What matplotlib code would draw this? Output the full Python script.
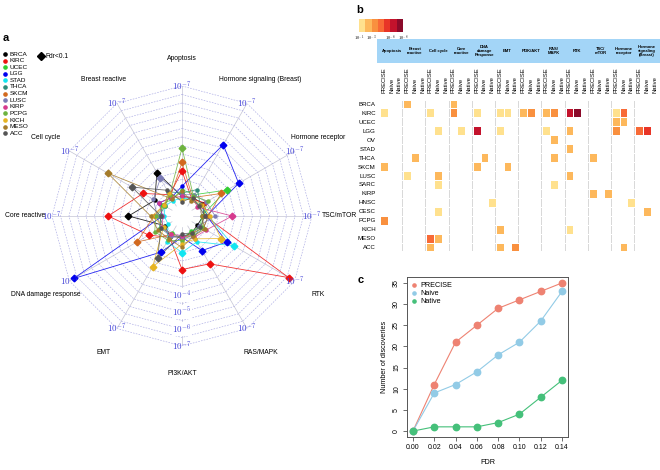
"""Three-panel figure: pathway radar (a), discovery heatmap (b), FDR curves (c)."""
import numpy as np
import matplotlib

matplotlib.use("Agg")
import matplotlib.pyplot as plt
from matplotlib.colors import ListedColormap, BoundaryNorm
from matplotlib.lines import Line2D
from matplotlib.patches import Rectangle

plt.rcParams["font.family"] = ["Liberation Sans", "DejaVu Sans"]
plt.rcParams["mathtext.fontset"] = "cm"

W, H = 660, 470

# ---------------------------------------------------------------------------
# Panel a: -log10(p) per pathway, clockwise from the top
# ---------------------------------------------------------------------------
PATHWAYS = ["Apoptosis", "Hormone signaling (Breast)", "Hormone receptor",
            "TSC/mTOR", "RTK", "RAS/MAPK", "PI3K/AKT", "EMT",
            "DNA damage response", "Core reactive", "Cell cycle",
            "Breast reactive"]
CANCERS = ["BRCA", "KIRC", "UCEC", "LGG", "STAD", "THCA", "SKCM", "LUSC",
           "KIRP", "PCPG", "KICH", "MESO", "ACC"]
CANCER_COLORS = ["#000000", "#EE1111", "#33CC33", "#0000EE", "#11E5F0",
                 "#2E8B7A", "#D2691E", "#7B7BB5", "#D63A8E", "#6DB33F",
                 "#E6B422", "#A57C2B", "#555555"]

BRCA = [0.5, 0.6, 0.8, 0.6, 0.4, 0.5, 0.6, 0.75, 0.5, 2.5, 1.2, 2.3]
KIRC = [2.0, 0.5, 0.9, 0.7, 6.6, 2.6, 2.5, 0.8, 1.6, 3.7, 2.0, 0.8]
UCEC = [0.9, 0.8, 2.4, 0.5, 0.6, 0.4, 0.7, 0.5, 0.9, 0.6, 0.7, 0.5]
LGG = [1.1, 4.2, 3.2, 0.8, 2.4, 1.7, 0.6, 1.8, 6.7, 0.5, 0.9, 0.6]
STAD = [0.4, 0.5, 0.6, 0.9, 2.85, 1.1, 1.5, 1.1, 0.3, 0.4, 0.5, 0.4]
THCA = [0.7, 1.15, 0.6, 0.9, 0.8, 0.7, 0.5, 0.8, 0.6, 0.7, 0.5, 1.0]
SKCM = [2.5, 0.6, 2.0, 0.9, 0.8, 0.5, 0.7, 0.6, 2.4, 1.0, 0.6, 0.7]
LUSC = [0.6, 0.8, 1.0, 1.3, 0.5, 0.9, 0.6, 0.7, 0.8, 0.8, 1.3, 1.9]
KIRP = [0.5, 0.6, 0.4, 2.3, 1.0, 0.8, 0.5, 0.6, 0.7, 0.5, 0.9, 0.6]
PCPG = [3.35, 0.7, 1.1, 0.6, 0.7, 0.6, 0.8, 1.0, 1.2, 0.9, 0.5, 0.8]
KICH = [0.3, 0.5, 0.7, 1.0, 2.0, 0.9, 1.0, 2.8, 0.6, 1.1, 0.6, 0.9]
MESO = [0.8, 0.4, 0.6, 0.5, 0.9, 0.7, 1.2, 0.9, 1.0, 1.2, 4.4, 0.5]
ACC = [0.2, 0.6, 0.5, 0.7, 0.6, 0.5, 0.4, 2.2, 0.8, 0.6, 2.75, 1.1]
RADAR = [BRCA, KIRC, UCEC, LGG, STAD, THCA, SKCM, LUSC, KIRP, PCPG, KICH,
         MESO, ACC]
SIG_LEVEL = 1.5  # -log10 p above which Fdr<0.1 (diamond marker)

# ---------------------------------------------------------------------------
# Panel b: colour level (0 = none) per tumour x pathway x method
# ---------------------------------------------------------------------------
GROUPS = ["Apoptosis", "Breast\nreactive", "Cell cycle", "Core\nreactive",
          "DNA\ndamage\nResponse", "EMT", "PI3K/AKT", "RAS/\nMAPK", "RTK",
          "TSC/\nmTOR", "Hormone\nreceptor", "Hormone\nsignaling\n(Breast)"]
METHODS = ["PRECISE", "Naive", "Native"]
HEAT_ROWS = ["BRCA", "KIRC", "UCEC", "LGG", "OV", "STAD", "THCA", "SKCM",
             "LUSC", "SARC", "KIRP", "HNSC", "CESC", "PCPG", "KICH", "MESO",
             "ACC"]
HEAT_LEVELS = [
    "000 200 000 200 000 000 000 000 000 000 000 000",  # BRCA
    "100 000 100 300 100 110 230 230 670 000 140 000",  # KIRC
    "000 000 000 000 000 000 000 000 000 000 220 000",  # UCEC
    "000 000 010 010 600 100 000 100 200 000 300 450",  # LGG
    "000 000 000 000 000 000 000 020 000 000 000 000",  # OV
    "000 000 000 000 000 000 000 000 200 000 000 000",  # STAD
    "000 020 000 000 020 000 000 020 000 200 000 000",  # THCA
    "200 000 000 000 200 020 000 000 000 000 000 000",  # SKCM
    "000 100 020 000 000 000 000 000 200 000 000 000",  # LUSC
    "000 000 010 000 000 000 000 010 000 000 000 000",  # SARC
    "000 000 000 000 000 000 000 000 000 202 000 000",  # KIRP
    "000 000 000 000 001 000 000 000 000 000 001 000",  # HNSC
    "000 000 010 000 000 000 000 000 000 000 000 020",  # CESC
    "300 000 000 000 000 000 000 000 000 000 000 000",  # PCPG
    "000 000 000 000 000 200 000 000 100 000 000 000",  # KICH
    "000 000 420 000 000 000 000 000 000 000 000 000",  # MESO
    "000 000 200 000 000 203 000 000 000 000 020 000",  # ACC
]
LEVEL_COLORS = ["#FFE18E", "#FDB85C", "#F9903F", "#F86A36", "#E83527",
                "#C3122C", "#8B0A2A"]
CBAR_TICKS = [0, 2, 5, 7]
CBAR_LABELS = ["$10^{-1}$", "$10^{-3}$", "$10^{-6}$", "$10^{-8}$"]

# ---------------------------------------------------------------------------
# Panel c: number of discoveries vs FDR
# ---------------------------------------------------------------------------
FDR = [0.00, 0.02, 0.04, 0.06, 0.08, 0.10, 0.12, 0.14]
PRECISE = [0, 11, 21, 25, 29, 31, 33, 35]
NAIVE = [0, 9, 11, 14, 18, 21, 26, 33]
NATIVE = [0, 1, 1, 1, 2, 4, 8, 12]
C_COLORS = ["#EE8272", "#92CBE6", "#45C07A"]


def px_box(x0, y0, x1, y1):
    """Pixel box (top-left origin) -> figure rect."""
    return [x0 / W, 1 - y1 / H, (x1 - x0) / W, (y1 - y0) / H]


fig = plt.figure(figsize=(W / 100, H / 100), dpi=100)

# overlay in pixel coordinates for panel letters, legend and header
ov = fig.add_axes([0, 0, 1, 1])
ov.set_xlim(0, W)
ov.set_ylim(H, 0)
ov.axis("off")

# ---------------------------------------------------------------------------
# a: radar
# ---------------------------------------------------------------------------
RMAX, R0 = 7, 0.65
ax = fig.add_axes(px_box(52, 86, 312, 346), projection="polar")
ax.set_theta_zero_location("N")
ax.set_theta_direction(-1)
ax.set_ylim(0, RMAX)
ax.set_rorigin(-R0)
ax.set_axis_off()

thetas = np.deg2rad(np.arange(len(PATHWAYS)) * 360 / len(PATHWAYS))
th_closed = np.append(thetas, thetas[0])

for th in thetas:
    ax.plot([th, th], [0, RMAX], color="#C4C4D4", lw=0.5, zorder=1)
for r in np.arange(0.5, RMAX + 0.01, 0.5):
    ax.plot(th_closed, [r] * len(th_closed), color="#A9A9E4", lw=0.45,
            ls=(0, (2.5, 2)), zorder=1)

for vals, col in zip(RADAR, CANCER_COLORS):
    v = np.array(vals)
    ax.plot(th_closed, np.append(v, v[0]), color=col, lw=0.6, alpha=0.85,
            zorder=3)
    sig = v >= SIG_LEVEL
    ax.plot(thetas[~sig], v[~sig], "o", ms=2.2, color=col, zorder=4)
    ax.plot(thetas[sig], v[sig], "D", ms=3.4, color=col, zorder=5)

lab_kw = dict(ha="center", va="center", color="#4545D8", fontsize=6.5,
              clip_on=False, zorder=6)
for i, th in enumerate(thetas):
    ax.text(th, RMAX, "$10^{-7}$", **lab_kw)
    ax.text(th, 8.6, PATHWAYS[i], ha="center", va="center", fontsize=4.9,
            clip_on=False)
for r in (4, 5, 6):
    ax.text(thetas[6], r, f"$10^{{-{r}}}$",
            bbox=dict(fc="white", ec="none", pad=0.2), **lab_kw)

# legend
for i, (name, col) in enumerate(zip(CANCERS, CANCER_COLORS)):
    y = 54 + 6.6 * i
    ov.plot([5], [y], "o", ms=2.3, color=col)
    ov.text(10, y, name, va="center", fontsize=4.6)
ov.plot([41], [56], "D", ms=3.6, color="black")
ov.text(46, 56, "Fdr<0.1", va="center", fontsize=4.8)

# ---------------------------------------------------------------------------
# b: heatmap
# ---------------------------------------------------------------------------
lv = np.array([[int(ch) for ch in s.replace(" ", "")] for s in HEAT_LEVELS])
cmap = ListedColormap(LEVEL_COLORS)
norm = BoundaryNorm(np.arange(0.5, len(LEVEL_COLORS) + 1), cmap.N)

axb = fig.add_axes(px_box(380, 99.5, 658.4, 251.5))
ncol = lv.shape[1]
for g in range(len(GROUPS)):
    axb.axvline(3 * g, color="#D6D6D6", lw=1.3, zorder=0)
axb.pcolormesh(np.ma.masked_equal(lv, 0), cmap=cmap, norm=norm,
               edgecolors="white", linewidth=0.6, zorder=1)
axb.set_xlim(0, ncol)
axb.set_ylim(len(HEAT_ROWS), 0)
for sp in axb.spines.values():
    sp.set_visible(False)
axb.set_yticks(np.arange(len(HEAT_ROWS)) + 0.5)
axb.set_yticklabels(HEAT_ROWS, fontsize=4.4)
axb.xaxis.tick_top()
axb.set_xticks(np.arange(ncol) + 0.5)
axb.set_xticklabels(METHODS * len(GROUPS), rotation=90, fontsize=4.2)
axb.tick_params(length=0, pad=3)
axb.tick_params(axis="x", pad=5)

# header band
ov.add_patch(Rectangle((377, 39), 283, 24, color="#A3D5F7", lw=0))
gw = (658.4 - 380) / len(GROUPS)
for g, name in enumerate(GROUPS):
    ov.text(380 + gw * (g + 0.5), 51, name, ha="center", va="center",
            fontsize=3.0, fontweight="bold", linespacing=1.15)

# colour key
axk = fig.add_axes(px_box(359, 19, 403, 32))
axk.imshow(np.arange(1, len(LEVEL_COLORS) + 1)[None, :], cmap=cmap,
           norm=norm, aspect="auto", extent=(0, len(LEVEL_COLORS), 0, 1))
axk.set_xticks(CBAR_TICKS)
axk.set_xticklabels(CBAR_LABELS, fontsize=3.2)
axk.set_yticks([])
axk.tick_params(length=0, pad=1)
for sp in axk.spines.values():
    sp.set_visible(False)

# ---------------------------------------------------------------------------
# c: discoveries vs FDR
# ---------------------------------------------------------------------------
axc = fig.add_axes(px_box(407, 277, 568, 437))
for ys, col, name in zip([PRECISE, NAIVE, NATIVE], C_COLORS, METHODS):
    axc.plot(FDR, ys, "-", color=col, lw=0.8)
    axc.plot(FDR, ys, "o", color=col, ms=4.6, label=name)
axc.set_xlim(-0.0056, 0.1456)
axc.set_ylim(-1.4, 36.4)
axc.set_xticks(FDR)
axc.set_xticklabels([f"{x:.2f}" for x in FDR])
axc.set_yticks(np.arange(0, 36, 5))
for sp in axc.spines.values():
    sp.set_color("#555555")
    sp.set_linewidth(0.7)
axc.tick_params(labelsize=5, length=3, width=0.6, color="#555555", pad=2)
axc.tick_params(axis="y", labelrotation=90)
for t in axc.get_yticklabels():
    t.set_va("center")
axc.set_xlabel("FDR", fontsize=5.2, labelpad=6)
axc.set_ylabel("Number of discoveries", fontsize=5.2, labelpad=4)
handles = [Line2D([], [], ls="", marker="o", ms=2.3, color=c) for c in C_COLORS]
axc.legend(handles, METHODS, loc="upper left", frameon=False, fontsize=5.2,
           handlelength=0.6, handletextpad=0.5, labelspacing=0.15,
           borderaxespad=0.3)

# panel letters
for x, y, s in [(3, 38, "a"), (356, 10, "b"), (358, 280, "c")]:
    ov.text(x, y, s, fontsize=8, fontweight="bold", va="center")

fig.savefig("out.png", dpi=100)
